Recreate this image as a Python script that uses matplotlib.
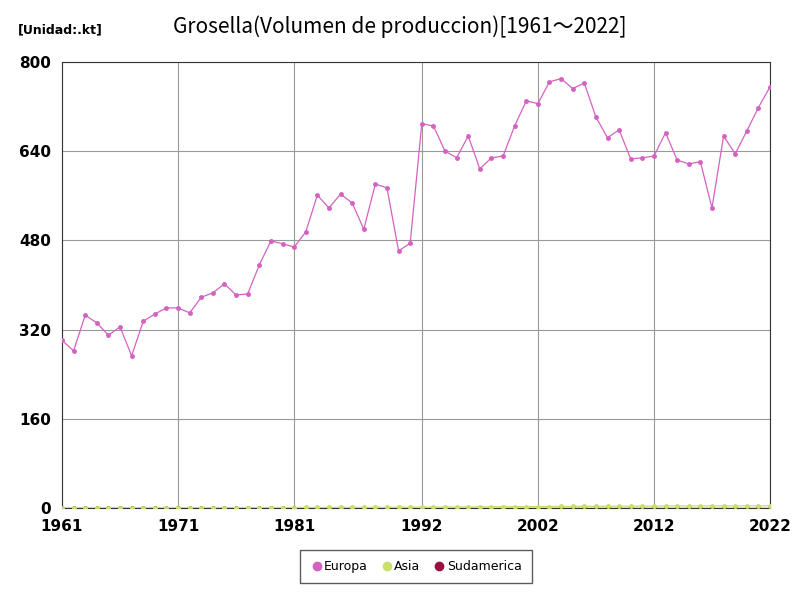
import matplotlib
matplotlib.use("Agg")
import matplotlib.pyplot as plt
from matplotlib.lines import Line2D

years = list(range(1961, 2023))
europa = [301,282,346,332,310,325,273,335,348,359,359,350,378,386,402,382,384,436,479,474,468,495,561,538,563,547,500,581,574,461,475,689,685,640,628,667,608,628,631,685,730,725,764,770,752,762,701,664,678,626,628,631,673,624,617,621,538,667,635,676,718,755]
asia = [0.5,0.5,0.6,0.6,0.6,0.7,0.7,0.7,0.8,0.8,0.8,0.9,0.9,1.0,1.0,1.0,1.1,1.1,1.2,1.2,1.2,1.3,1.3,1.4,1.4,1.5,1.5,1.6,1.6,1.7,1.8,2.0,2.0,2.1,2.2,2.3,2.4,2.5,2.6,2.7,2.8,2.9,3.0,3.1,3.2,3.3,3.4,3.5,3.6,3.6,3.7,3.8,3.9,4.0,4.0,4.1,4.1,4.2,4.2,4.3,4.3,4.4]
sudamerica = [0.2]*62

colors = {"Europa": "#d462c0", "Asia": "#c8e06a", "Sudamerica": "#9b0f3f"}

fig = plt.figure(figsize=(8, 6), dpi=100)
ax = fig.add_axes([0.0775, 0.153, 0.885, 0.744])
ax.plot(years, sudamerica, color=colors["Sudamerica"], lw=0.9, marker="o", ms=2.5, zorder=2)
ax.plot(years, asia, color=colors["Asia"], lw=0.9, marker="o", ms=2.5, zorder=3)
ax.plot(years, europa, color=colors["Europa"], lw=0.9, marker="o", ms=2.5, zorder=4)
ax.set_xlim(1961, 2022)
ax.set_ylim(0, 800)
ax.set_xticks([1961,1971,1981,1992,2002,2012,2022])
ax.set_yticks([0,160,320,480,640,800])
ax.grid(color="#999999", lw=0.8)
ax.tick_params(length=0, labelsize=11)
ax.tick_params(axis="x", pad=8)
ax.tick_params(axis="y", pad=8)
for t in ax.get_xticklabels()+ax.get_yticklabels():
    t.set_fontweight("bold")
for s in ax.spines.values():
    s.set_color("#333333")
fig.suptitle("Grosella(Volumen de produccion)[1961\uff5e2022]", y=0.975, fontsize=15, fontfamily="Noto Sans CJK JP")
fig.text(0.022, 0.945, "[Unidad:.kt]", fontsize=9, fontweight="bold")
handles = [Line2D([], [], ls="none", marker="o", ms=6, color=colors[k]) for k in ["Europa", "Asia", "Sudamerica"]]
ax.legend(handles, ["Europa", "Asia", "Sudamerica"], loc="upper center", bbox_to_anchor=(0.5, -0.08), ncol=3, fontsize=9,
          frameon=True, fancybox=False, edgecolor="#333333", handletextpad=0.1, handlelength=1.0, columnspacing=1.0,
          borderpad=0.8)
fig.savefig("out.png")
